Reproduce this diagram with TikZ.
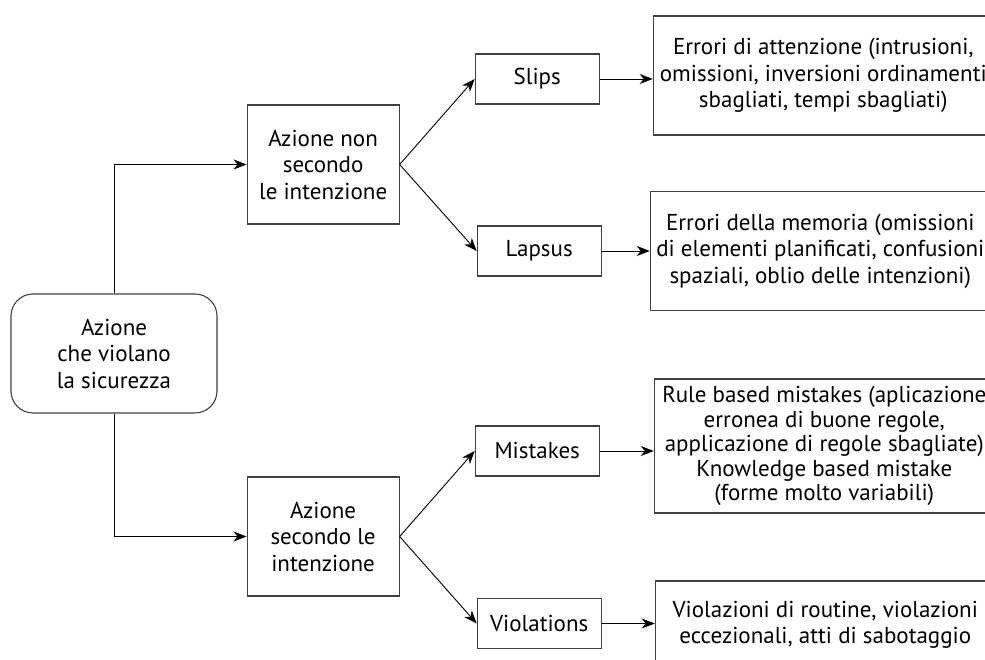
\documentclass[tikz,border=0pt]{standalone}
\usepackage{fontspec}
\setmainfont{PT Sans}
\usetikzlibrary{arrows.meta, positioning}

\begin{document}
\begin{tikzpicture}[
    x=1pt, y=1pt,
    node distance=29pt,
    box/.style={draw=black!75, line width=1.1pt, minimum width=152pt, minimum height=119pt, font=\fontsize{23}{26.5}\selectfont, align=center, inner sep=2pt},
    rootbox/.style={box, rounded corners=22pt, minimum width=206pt},
    small/.style={box, minimum width=124pt, minimum height=50pt},
    desc/.style={box, minimum width=340pt},
    arrow/.style={-{Stealth[length=13pt, width=10pt, inset=4pt]}, line width=0.9pt}
]
\useasboundingbox (0,0) rectangle (985,660);
\clip (0,0) rectangle (985,660);

\node[rootbox] at (114,306.5) (root) {Azione\\che violano\\la sicurezza};
\node[box, right=29pt of root, yshift=189pt] (nonsec) {Azione non\\secondo\\le intenzione};
\node[box, right=29pt of root, yshift=-183pt] (sec) {Azione\\secondo le\\intenzione};

\node[small, right=75pt of nonsec, yshift=85.5pt] (slips) {Slips};
\node[small, right=77pt of nonsec, yshift=-86.5pt] (lapsus) {Lapsus};
\node[small, right=75pt of sec, yshift=85.5pt] (mistakes) {Mistakes};
\node[small, right=77pt of sec, yshift=-87pt] (violations) {Violations};

\node[desc, right=53pt of slips, yshift=3.5pt] (attenz) {Errori di attenzione (intrusioni,\\omissioni, inversioni ordinamenti\\sbagliati, tempi sbagliati)};
\node[desc, right=52pt of lapsus, xshift=-4pt] (memoria) {Errori della memoria (omissioni\\di elementi planificati, confusioni\\spaziali, oblio delle intenzioni)};
\node[desc, right=54pt of mistakes, yshift=5pt, minimum height=134pt, font=\fontsize{23}{24.5}\selectfont] (regole) {Rule based mistakes (aplicazione\\erronea di buone regole,\\applicazione di regole sbagliate)\\Knowledge based mistake\\(forme molto variabili)};
\node[desc, right=53pt of violations, yshift=-1.5pt, minimum height=88pt] (routine) {Violazioni di routine, violazioni\\eccezionali, atti di sabotaggio};

\draw[arrow] (root.north) |- (nonsec.west);
\draw[arrow] (root.south) |- (sec.west);
\draw[arrow] (nonsec.east) -- (slips.west);
\draw[arrow] (nonsec.east) -- (lapsus.west);
\draw[arrow] (sec.east) -- (mistakes.west);
\draw[arrow] (sec.east) -- (violations.west);
\draw[arrow] (slips.east) -- (slips.east -| attenz.west);
\draw[arrow] (lapsus.east) -- (lapsus.east -| memoria.west);
\draw[arrow] (mistakes.east) -- (mistakes.east -| regole.west);
\draw[arrow] (violations.east) -- (violations.east -| routine.west);
\end{tikzpicture}
\end{document}
